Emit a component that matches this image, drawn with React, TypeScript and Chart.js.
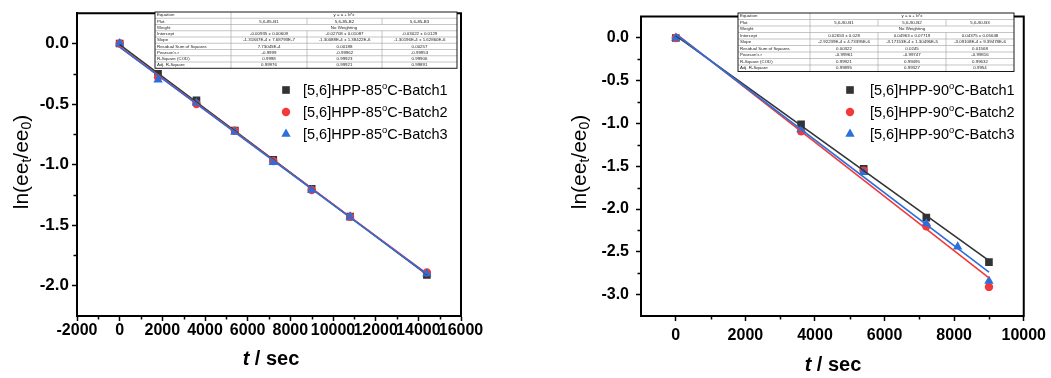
import React, { useEffect, useRef } from "react";
import { Chart, registerables } from "chart.js";

Chart.register(...registerables);

const FONT = "'Liberation Sans', Arial, Helvetica, sans-serif";
const COLORS = ["#333333", "#f23a3a", "#2a6fdc"];
const MARKERS = ["rect", "circle", "triangle"];
const RADII = [5.4, 4.2, 5.4];

// ---------------- 85 °C data ----------------
const time85 = [0, 1800, 3600, 5400, 7200, 9000, 10800, 14400];
const batch1_85 = [0, -0.25, -0.47, -0.72, -0.96, -1.2, -1.43, -1.91];
const batch2_85 = [0, -0.28, -0.5, -0.72, -0.97, -1.21, -1.43, -1.89];
const batch3_85 = [0, -0.3, -0.49, -0.73, -0.98, -1.21, -1.43, -1.9];
const intercept85 = [-0.00935, -0.02708, -0.03022];
const slope85 = [-1.31847e-4, -1.30088e-4, -1.30196e-4];
const legend85 = ["[5,6]HPP-85^oC-Batch1", "[5,6]HPP-85^oC-Batch2", "[5,6]HPP-85^oC-Batch3"];
const xTicks85 = [-2000, 0, 2000, 4000, 6000, 8000, 10000, 12000, 14000, 16000];
const xMinor85 = [-1000, 1000, 3000, 5000, 7000, 9000, 11000, 13000, 15000];
const yTicks85 = [0, -0.5, -1, -1.5, -2];
const yMinor85 = [-0.25, -0.75, -1.25, -1.75];

// ---------------- 90 °C data ----------------
const time90 = [0, 3600, 5400, 7200, 9000];
const time90b3 = [0, 3600, 5400, 7200, 8100, 9000];
const batch1_90 = [0, -1.01, -1.53, -2.1, -2.62];
const batch2_90 = [0, -1.09, -1.55, -2.2, -2.91];
const batch3_90 = [0, -1.07, -1.57, -2.17, -2.44, -2.84];
const intercept90 = [0.02653, 0.04963, 0.04375];
const slope90 = [-2.92239e-4, -3.17153e-4, -3.09108e-4];
const legend90 = ["[5,6]HPP-90^oC-Batch1", "[5,6]HPP-90^oC-Batch2", "[5,6]HPP-90^oC-Batch3"];
const xTicks90 = [0, 2000, 4000, 6000, 8000, 10000];
const xMinor90 = [1000, 3000, 5000, 7000, 9000];
const yTicks90 = [0, -0.5, -1, -1.5, -2, -2.5, -3];
const yMinor90 = [-0.25, -0.75, -1.25, -1.75, -2.25, -2.75];

// ---------------- fit tables ----------------
const tableRowLabels = [
  "Equation", "Plot", "Weight", "Intercept", "Slope",
  "Residual Sum of Squares", "Pearson's r", "R-Square (COD)", "Adj. R-Square",
];
const plot85 = ["5,6-85-B1", "5,6-85-B2", "5,6-85-B3"];
const interceptText85 = ["-0.00935 ± 0.00609", "-0.02708 ± 0.01087", "-0.03022 ± 0.0129"];
const slopeText85 = ["-1.31847E-4 ± 7.68793E-7", "-1.30088E-4 ± 1.38422E-6", "-1.30196E-4 ± 1.62860E-6"];
const rss85 = ["7.73045E-4", "0.00188", "0.00257"];
const pearson85 = ["-0.9999", "-0.99962", "-0.99953"];
const rsq85 = ["0.9998", "0.99923", "0.99906"];
const adjRsq85 = ["0.99976", "0.99921", "0.99891"];

const plot90 = ["5,6-90-B1", "5,6-90-B2", "5,6-90-B3"];
const interceptText90 = ["0.02653 ± 0.028", "0.04963 ± 0.07719", "0.04375 ± 0.05648"];
const slopeText90 = ["-2.92239E-4 ± 4.73395E-6", "-3.17153E-4 ± 1.30496E-5", "-3.09108E-4 ± 9.39478E-6"];
const rss90 = ["0.00322", "0.0245", "0.01568"];
const pearson90 = ["-0.99961", "-0.99747", "-0.99816"];
const rsq90 = ["0.99921", "0.99495", "0.99632"];
const adjRsq90 = ["0.99895", "0.99327", "0.9954"];

const H = 378;

type Panel = any;

const panels: Panel[] = [
  {
    offset: 0, w: 525,
    area: { left: 77, right: 461, top: 9, bottom: 316 },
    xMin: -2000, xMax: 16000, yMin: -2.25, yMax: 0.25,
    xTicks: xTicks85, xMinor: xMinor85, yTicks: yTicks85, yMinor: yMinor85,
    xFont: 16, yFont: 17, xPad: 0, yPad: 3,
    times: [time85, time85, time85],
    values: [batch1_85, batch2_85, batch3_85],
    intercept: intercept85, slope: slope85,
    legend: legend85, legendMarkerX: 286, legendTextX: 303, legendY: [90, 112, 134],
    yTitle: { x: 22, y: 162 }, xTitle: { x: 271, y: 359 },
    table: {
      cols: [155, 231, 307, 382, 457], top: 12, rowH: 6.25,
      cells: [plot85, interceptText85, slopeText85, rss85, pearson85, rsq85, adjRsq85],
    },
  },
  {
    offset: 525, w: 526,
    area: { left: 641, right: 1025, top: 9, bottom: 316 },
    xMin: -1000, xMax: 10000, yMin: -3.25, yMax: 0.25,
    xTicks: xTicks90, xMinor: xMinor90, yTicks: yTicks90, yMinor: yMinor90,
    xFont: 16, yFont: 16, xPad: 5, yPad: 7,
    times: [time90, time90, time90b3],
    values: [batch1_90, batch2_90, batch3_90],
    intercept: intercept90, slope: slope90,
    legend: legend90, legendMarkerX: 850, legendTextX: 870, legendY: [90, 112, 134],
    yTitle: { x: 580, y: 162 }, xTitle: { x: 833, y: 365 },
    table: {
      cols: [738, 810, 878, 946, 1014], top: 13, rowH: 6.5,
      cells: [plot90, interceptText90, slopeText90, rss90, pearson90, rsq90, adjRsq90],
    },
  },
];

function drawMarker(ctx: CanvasRenderingContext2D, style: string, x: number, y: number, r: number, color: string) {
  ctx.fillStyle = color;
  ctx.beginPath();
  if (style === "rect") {
    const s = r * Math.SQRT1_2;
    ctx.rect(x - s, y - s, 2 * s, 2 * s);
  } else if (style === "circle") {
    ctx.arc(x, y, r, 0, Math.PI * 2);
  } else {
    const rad = r;
    ctx.moveTo(x, y - rad);
    ctx.lineTo(x + rad * Math.sin(Math.PI / 3), y + rad * 0.5);
    ctx.lineTo(x - rad * Math.sin(Math.PI / 3), y + rad * 0.5);
    ctx.closePath();
  }
  ctx.fill();
}

function drawTable(ctx: CanvasRenderingContext2D, t: any, off: number) {
  const xs = t.cols.map((v: number) => v - off);
  const n = tableRowLabels.length;
  const y0 = t.top;
  const rh = t.rowH;
  const W = xs[4] - xs[0];
  ctx.save();
  ctx.fillStyle = "#ffffff";
  ctx.fillRect(xs[0], y0, W, rh * n);
  ctx.strokeStyle = "#a0a0a0";
  ctx.lineWidth = 0.6;
  ctx.beginPath();
  for (let r = 1; r < n; r++) {
    ctx.moveTo(xs[0], y0 + r * rh);
    ctx.lineTo(xs[4], y0 + r * rh);
  }
  ctx.moveTo(xs[1], y0);
  ctx.lineTo(xs[1], y0 + n * rh);
  for (let r = 0; r < n; r++) {
    if (r === 0 || r === 2) continue;
    for (const c of [2, 3]) {
      ctx.moveTo(xs[c], y0 + r * rh);
      ctx.lineTo(xs[c], y0 + (r + 1) * rh);
    }
  }
  ctx.stroke();
  ctx.strokeStyle = "#000";
  ctx.lineWidth = 0.9;
  ctx.strokeRect(xs[0], y0, W, rh * n);
  ctx.fillStyle = "#222";
  ctx.font = `4.4px ${FONT}`;
  ctx.textBaseline = "middle";
  for (let r = 0; r < n; r++) {
    const cy = y0 + (r + 0.5) * rh;
    ctx.textAlign = "left";
    ctx.fillText(tableRowLabels[r], xs[0] + 2, cy);
    ctx.textAlign = "center";
    if (r === 0) {
      ctx.fillText("y = a + b*x", (xs[1] + xs[4]) / 2, cy);
    } else if (r === 2) {
      ctx.fillText("No Weighting", (xs[1] + xs[4]) / 2, cy);
    } else {
      const row = r === 1 ? t.cells[0] : t.cells[r - 2];
      for (let c = 0; c < 3; c++) {
        ctx.fillText(row[c], (xs[c + 1] + xs[c + 2]) / 2, cy);
      }
    }
  }
  ctx.restore();
}

function drawSupText(ctx: CanvasRenderingContext2D, text: string, x: number, y: number, size: number) {
  const parts = text.split("^o");
  ctx.textAlign = "left";
  ctx.textBaseline = "alphabetic";
  ctx.font = `${size}px ${FONT}`;
  ctx.fillText(parts[0], x, y);
  let cx = x + ctx.measureText(parts[0]).width;
  if (parts.length > 1) {
    ctx.font = `${size * 0.65}px ${FONT}`;
    ctx.fillText("o", cx, y - size * 0.38);
    cx += ctx.measureText("o").width;
    ctx.font = `${size}px ${FONT}`;
    ctx.fillText(parts[1], cx, y);
  }
}

function makeOverlay(p: Panel) {
  return {
    id: "overlay",
    afterDraw(chart: any) {
      const ctx: CanvasRenderingContext2D = chart.ctx;
      const { left, right, top, bottom } = chart.chartArea;
      const xs = chart.scales.x;
      const ys = chart.scales.y;
      const off = p.offset;
      ctx.save();
      ctx.strokeStyle = "#000";
      ctx.lineWidth = 2;
      ctx.beginPath();
      ctx.moveTo(left - 1, top);
      ctx.lineTo(right, top);
      ctx.lineTo(right, bottom + 1);
      ctx.stroke();
      ctx.lineWidth = 1.5;
      ctx.beginPath();
      for (const v of p.xMinor) {
        const px = Math.round(xs.getPixelForValue(v)) + 0.5;
        ctx.moveTo(px, bottom);
        ctx.lineTo(px, bottom + 3.5);
      }
      for (const v of p.yMinor) {
        const py = Math.round(ys.getPixelForValue(v)) + 0.5;
        ctx.moveTo(left, py);
        ctx.lineTo(left - 3.5, py);
      }
      ctx.stroke();

      drawTable(ctx, p.table, off);

      for (let i = 0; i < 3; i++) {
        const y = p.legendY[i];
        drawMarker(ctx, MARKERS[i], p.legendMarkerX - off, y, RADII[i], COLORS[i]);
        ctx.fillStyle = "#000";
        drawSupText(ctx, p.legend[i], p.legendTextX - off, y + 5, 14.5);
      }

      ctx.fillStyle = "#000";
      ctx.textBaseline = "middle";
      ctx.textAlign = "left";
      ctx.font = `italic bold 20px ${FONT}`;
      const tW = ctx.measureText("t").width;
      ctx.font = `bold 20px ${FONT}`;
      const rest = " / sec";
      const rW = ctx.measureText(rest).width;
      const sx = p.xTitle.x - off - (tW + rW) / 2;
      ctx.font = `italic bold 20px ${FONT}`;
      ctx.fillText("t", sx, p.xTitle.y);
      ctx.font = `bold 20px ${FONT}`;
      ctx.fillText(rest, sx + tW, p.xTitle.y);

      ctx.save();
      ctx.translate(p.yTitle.x - off, p.yTitle.y);
      ctx.rotate(-Math.PI / 2);
      const big = 21;
      const small = 14;
      const segs: [string, boolean][] = [["ln(ee", false], ["t", true], ["/ee", false], ["0", true], [")", false]];
      let total = 0;
      for (const [s, sub] of segs) {
        ctx.font = `${sub ? small : big}px ${FONT}`;
        total += ctx.measureText(s).width;
      }
      let cx = -total / 2;
      ctx.textBaseline = "alphabetic";
      for (const [s, sub] of segs) {
        ctx.font = `${sub ? small : big}px ${FONT}`;
        ctx.fillText(s, cx, sub ? 9 : 6);
        cx += ctx.measureText(s).width;
      }
      ctx.restore();

      ctx.restore();
    },
  };
}

function buildConfig(p: Panel): any {
  const datasets: any[] = [];
  for (let i = 2; i >= 0; i--) {
    const ts = p.times[i];
    const t0 = ts[0];
    const t1 = ts[ts.length - 1];
    datasets.push({
      data: [
        { x: t0, y: p.intercept[i] + p.slope[i] * t0 },
        { x: t1, y: p.intercept[i] + p.slope[i] * t1 },
      ],
      showLine: true,
      borderColor: COLORS[i],
      borderWidth: 1.6,
      pointRadius: 0,
      fill: false,
    });
  }
  for (let i = 2; i >= 0; i--) {
    datasets.push({
      data: p.times[i].map((t: number, k: number) => ({ x: t, y: p.values[i][k] })),
      showLine: false,
      backgroundColor: COLORS[i],
      borderColor: COLORS[i],
      borderWidth: 0,
      pointStyle: MARKERS[i],
      pointRadius: RADII[i],
    });
  }
  const a = p.area;
  return {
    type: "scatter",
    data: { datasets },
    options: {
      responsive: false,
      animation: false,
      events: [],
      layout: { padding: { top: a.top, right: p.w - (a.right - p.offset), left: 0, bottom: 0 } },
      plugins: { legend: { display: false }, tooltip: { enabled: false } },
      scales: {
        x: {
          type: "linear",
          min: p.xMin,
          max: p.xMax,
          afterBuildTicks: (s: any) => {
            s.ticks = p.xTicks.map((v: number) => ({ value: v }));
          },
          afterFit: (s: any) => {
            s.height = H - a.bottom;
          },
          grid: { drawOnChartArea: false, drawTicks: true, tickLength: 5, tickWidth: 1.5, tickColor: "#000", color: "#000" },
          border: { display: true, color: "#000", width: 2 },
          ticks: {
            autoSkip: false, maxRotation: 0, minRotation: 0, padding: p.xPad, color: "#000",
            font: { family: FONT, size: p.xFont, weight: "bold" },
            callback: (v: any) => String(v),
          },
        },
        y: {
          type: "linear",
          min: p.yMin,
          max: p.yMax,
          afterBuildTicks: (s: any) => {
            s.ticks = p.yTicks.map((v: number) => ({ value: v }));
          },
          afterFit: (s: any) => {
            s.width = a.left - p.offset;
          },
          grid: { drawOnChartArea: false, drawTicks: true, tickLength: 5, tickWidth: 1.5, tickColor: "#000", color: "#000" },
          border: { display: true, color: "#000", width: 2 },
          ticks: {
            autoSkip: false, padding: p.yPad, color: "#000",
            font: { family: FONT, size: p.yFont, weight: "bold" },
            callback: (v: any) => Number(v).toFixed(1),
          },
        },
      },
    },
    plugins: [makeOverlay(p)],
  };
}

function PanelChart({ p }: { p: Panel }) {
  const ref = useRef<HTMLCanvasElement>(null);
  useEffect(() => {
    if (!ref.current) return;
    const chart = new Chart(ref.current, buildConfig(p));
    return () => chart.destroy();
  }, [p]);
  return (
    <canvas
      ref={ref}
      width={p.w}
      height={H}
      style={{ position: "absolute", left: p.offset, top: 0, width: p.w, height: H }}
    />
  );
}

export default function App() {
  return (
    <div style={{ position: "fixed", left: 0, top: 0, width: 1051, height: H, background: "#fff" }}>
      {panels.map((p, i) => (
        <PanelChart key={i} p={p} />
      ))}
    </div>
  );
}
